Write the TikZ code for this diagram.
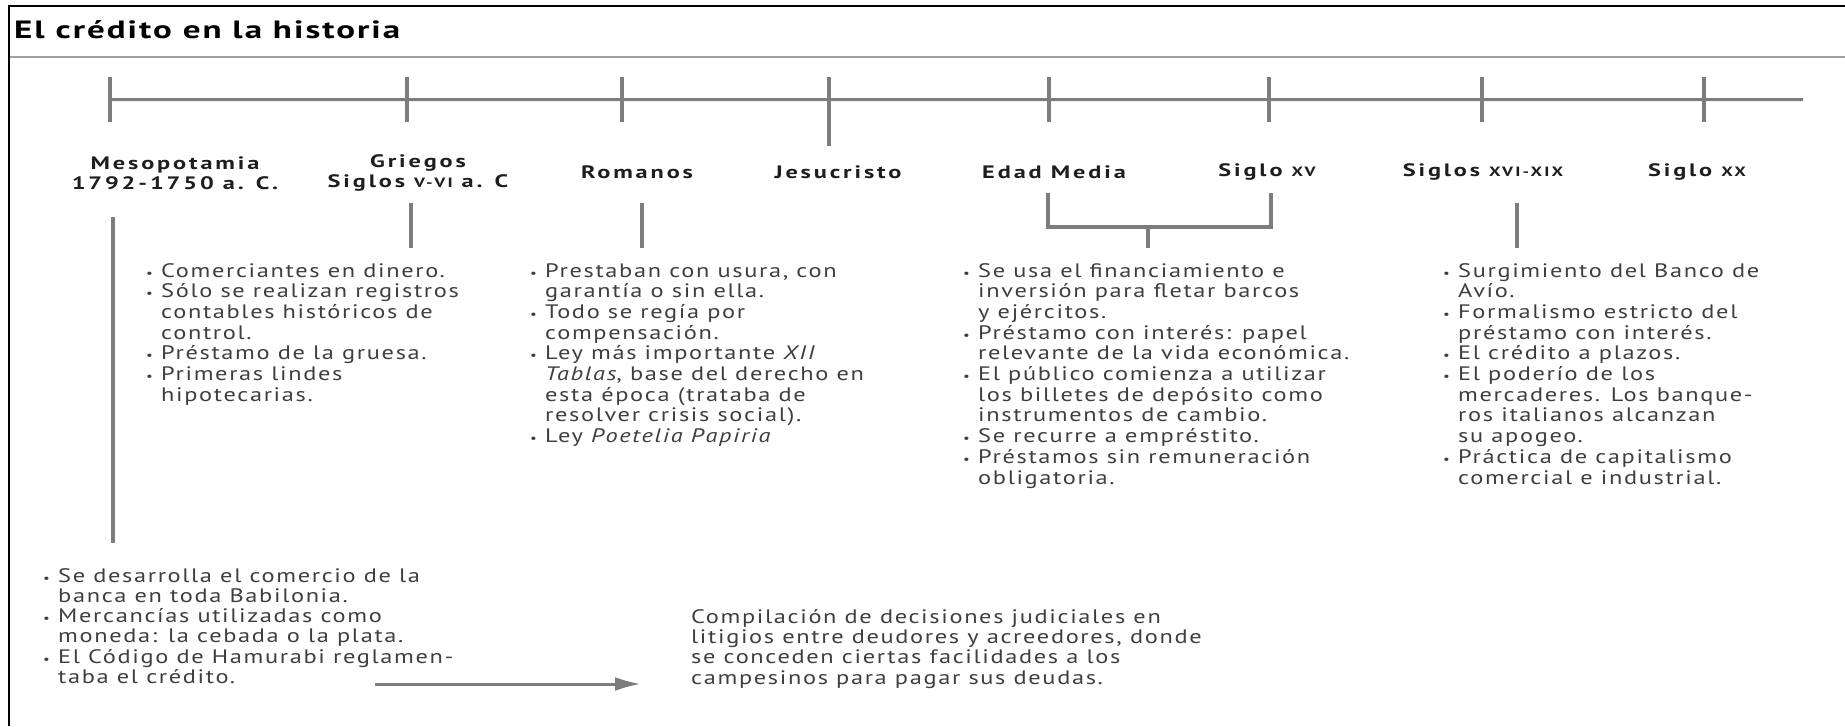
\documentclass[tikz,border=0pt]{standalone}
\usepackage{fontspec}
\setmainfont{PT Sans}[FakeStretch=1.25,LetterSpace=8.5]
\newfontfamily\headfont{PT Sans}[FakeStretch=1.4,LetterSpace=8]
\newfontfamily\erafont{PT Sans}[FakeStretch=1.35,LetterSpace=16]
\usetikzlibrary{positioning}
\usetikzlibrary{arrows.meta}

\definecolor{rulegray}{RGB}{125,125,125}
\definecolor{sepgray}{RGB}{160,160,160}
\definecolor{txtgray}{RGB}{62,62,62}
\definecolor{lblblack}{RGB}{30,30,30}

\newlength{\bulw}\setlength{\bulw}{15pt}
\newcommand{\bul}{\makebox[\bulw][l]{\fontsize{12}{12}\selectfont\textbullet}}
\newcommand{\ind}{\hspace*{\bulw}}
\newcommand{\rnum}[1]{{\fontsize{13.5}{20}\selectfont #1}}

\tikzset{
  frame/.style={draw=black, line width=2.5pt},
  sepline/.style={draw=sepgray, line width=2pt},
  axis/.style={draw=rulegray, line width=3pt},
  tick/.style={fill=rulegray, inner sep=0, minimum width=3.5pt, minimum height=45pt, anchor=north},
  link/.style={draw=rulegray, line width=4pt},
  era/.style={font=\erafont\bfseries\fontsize{18}{20}\selectfont, text=lblblack, align=center, inner sep=0},
  notes/.style={font=\fontsize{19.5}{20.7}\selectfont, text=txtgray, align=left, inner sep=0,
    anchor=north west, execute at begin node={\rule{0pt}{18pt}}},
  tight/.style={font=\fontsize{19.5}{20.3}\selectfont},
  arrow/.style={draw=rulegray, line width=3pt, -{Latex[length=26pt,width=14pt]}},
}

\begin{document}
\begin{tikzpicture}[x=1pt, y=-1pt]
    \useasboundingbox (0,0) rectangle (1845,726);

    % frame and title
    \draw[frame] (9,726) -- (9,6) -- (1845,6);
    \draw[sepline] (10,57) -- (1845,57);
    \node[anchor=base west, inner sep=0, font=\headfont\bfseries\fontsize{25}{28}\selectfont] (title) at (14,38) {El crédito en la historia};

    % time line
    \coordinate (axis-end) at (1803,99.5);
    \node[tick] (t-meso) at (110,77) {};
    \draw[axis] (t-meso.center) -- (axis-end);
    \foreach \n/\x in {grie/407, rom/622, edad/1049, xv/1269, xvi/1482, xx/1704}
        \node[tick] (t-\n) at (\x,77) {};
    \node[tick, minimum height=69pt] (t-jes) at (829,77) {};

    % eras
    \node[era] (l-meso) at (175,173) {Mesopotamia\\1792-1750 a. C.};
    \node[era] (l-grie) at (418,173) {Griegos\\Siglos \rnum{V-VI} a. C};
    \node[era] (l-rom) at (637,172) {Romanos};
    \node[era] (l-jes) at (838,172) {Jesucristo};
    \node[era] (l-edad) at (1054,172) {Edad Media};
    \node[era] (l-xv) at (1267,172) {Siglo \rnum{XV}};
    \node[era] (l-xvi) at (1483,172) {Siglos \rnum{XVI-XIX}};
    \node[era] (l-xx) at (1697,172) {Siglo \rnum{XX}};

    % links down to the notes
    \foreach \n/\x in {grie/411, rom/642, xvi/1517} {
        \coordinate (\n-a) at (\x,203);
        \coordinate (\n-b) at (\x,248);
        \draw[link] (\n-a) -- (\n-b);
    }
    \coordinate (br-l) at (1048,193);
    \coordinate (br-r) at (1271,193);
    \coordinate (br-m) at (1148,227);
    \coordinate (br-b) at (1148,248);
    \draw[link] (br-l) -- ++(0,34) -| (br-r);
    \draw[link] (br-m) -- (br-b);
    \coordinate (m-top) at (113,217);
    \coordinate (m-bot) at (113,543);
    \draw[link] (m-top) -- (m-bot);

    % notes
    \node[notes] (n-grie) at (146,263) {\bul Comerciantes en dinero.\\
        \bul Sólo se realizan registros\\ \ind contables históricos de\\ \ind control.\\
        \bul Préstamo de la gruesa.\\
        \bul Primeras lindes\\ \ind hipotecarias.};
    \node[notes] (n-rom) at (530,263) {\bul Prestaban con usura, con\\ \ind garantía o sin ella.\\
        \bul Todo se regía por\\ \ind compensación.\\
        \bul Ley más importante \textit{XII}\\ \ind\textit{Tablas}, base del derecho en\\ \ind esta época (trataba de\\ \ind resolver crisis social).\\
        \bul Ley \textit{Poetelia Papiria}};
    \node[notes] (n-edad) at (963,263) {\bul Se usa el financiamiento e\\ \ind inversión para fletar barcos\\ \ind y ejércitos.\\
        \bul Préstamo con interés: papel\\ \ind relevante de la vida económica.\\
        \bul El público comienza a utilizar\\ \ind los billetes de depósito como\\ \ind instrumentos de cambio.\\
        \bul Se recurre a empréstito.\\
        \bul Préstamos sin remuneración\\ \ind obligatoria.};
    \node[notes] (n-xvi) at (1443,263) {\bul Surgimiento del Banco de\\ \ind Avío.\\
        \bul Formalismo estricto del\\ \ind préstamo con interés.\\
        \bul El crédito a plazos.\\
        \bul El poderío de los\\ \ind mercaderes. Los banque-\\ \ind ros italianos alcanzan\\ \ind su apogeo.\\
        \bul Práctica de capitalismo\\ \ind comercial e industrial.};
    \node[notes, tight] (n-meso) at (43,568) {\bul Se desarrolla el comercio de la\\ \ind banca en toda Babilonia.\\
        \bul Mercancías utilizadas como\\ \ind moneda: la cebada o la plata.\\
        \bul El Código de Hamurabi reglamen-\\ \ind taba el crédito.};
    \node[notes, tight] (n-comp) at (691,609) {Compilación de decisiones judiciales en\\
        litigios entre deudores y acreedores, donde\\
        se conceden ciertas facilidades a los\\
        campesinos para pagar sus deudas.};

    % arrow to the code
    \coordinate (arr-a) at (375,684);
    \draw[arrow, shorten >=50pt] (arr-a) -- (arr-a -| n-comp.west);
\end{tikzpicture}
\end{document}
